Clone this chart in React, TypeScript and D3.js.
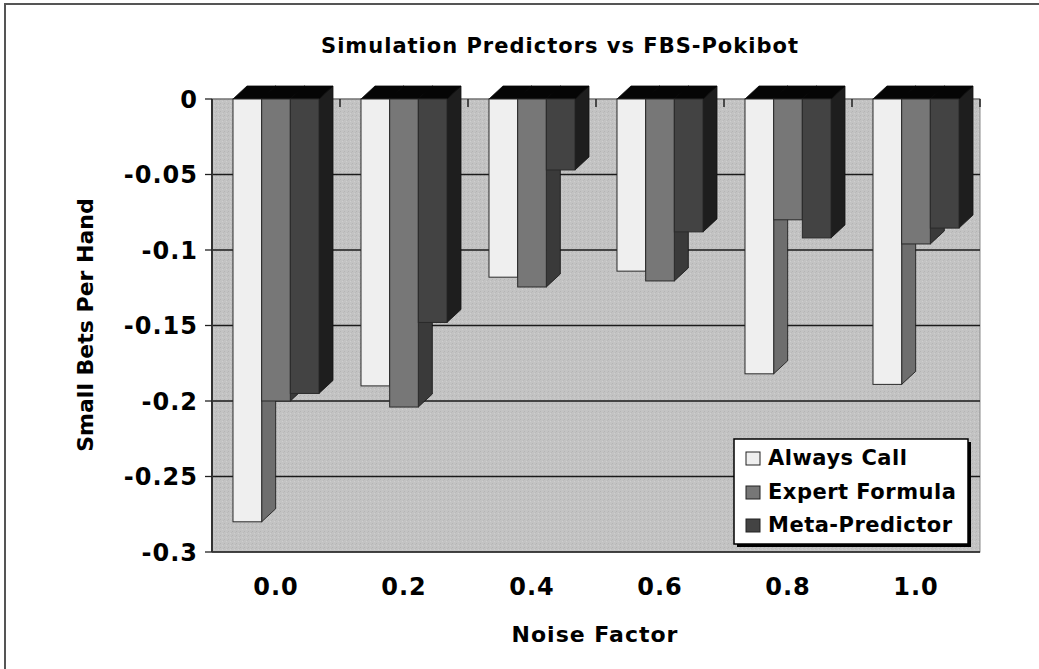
import { useEffect, useRef } from 'react';
import * as d3 from 'd3';

const noiseLevels = ['0.0', '0.2', '0.4', '0.6', '0.8', '1.0'];
const seriesNames = ['Always Call', 'Expert Formula', 'Meta-Predictor'];
const alwaysCall = [-0.28, -0.19, -0.118, -0.114, -0.182, -0.189];
const expertFormula = [-0.2, -0.204, -0.1245, -0.1205, -0.08, -0.096];
const metaPredictor = [-0.195, -0.148, -0.047, -0.088, -0.092, -0.0855];
const yTicks = [0, -0.05, -0.1, -0.15, -0.2, -0.25, -0.3];

const frontColors = ['#efefef', '#777777', '#434343'];
const sideColors = ['#6e6e6e', '#3a3a3a', '#1e1e1e'];
const FONT = '"DejaVu Sans", Verdana, sans-serif';

export default function App() {
  const svgRef = useRef<SVGSVGElement>(null);
  const width = 1039;
  const height = 669;

  useEffect(() => {
    if (!svgRef.current) return;
    const svg = d3.select(svgRef.current);
    svg.selectAll('*').remove();

    const margin = { top: 99, right: 59, bottom: 117, left: 212 };
    const chartWidth = width - margin.left - margin.right;
    const chartHeight = height - margin.top - margin.bottom;
    const seriesValues = [alwaysCall, expertFormula, metaPredictor];

    // Scales
    const x0 = d3.scaleBand().domain(noiseLevels).range([0, chartWidth]).padding(0);
    const gap = x0.bandwidth() * 0.164;
    const x1 = d3.scaleBand().domain(seriesNames).range([gap, x0.bandwidth() - gap]).padding(0);
    const y = d3.scaleLinear().domain([-0.3, 0]).range([chartHeight, 0]);

    // 3D depth offsets
    const dx = 14;
    const dy = 13;

    // Wall texture
    const defs = svg.append('defs');
    const pat = defs.append('pattern')
      .attr('id', 'wallTex')
      .attr('width', 4)
      .attr('height', 4)
      .attr('patternUnits', 'userSpaceOnUse');
    pat.append('rect').attr('width', 4).attr('height', 4).attr('fill', '#c3c3c3');
    pat.append('rect').attr('x', 0).attr('y', 0).attr('width', 1).attr('height', 1).attr('fill', '#b4b4b4');
    pat.append('rect').attr('x', 2).attr('y', 2).attr('width', 1).attr('height', 1).attr('fill', '#cfcfcf');
    pat.append('rect').attr('x', 3).attr('y', 1).attr('width', 1).attr('height', 1).attr('fill', '#bababa');

    // Frame (left and top edges only)
    svg.append('line').attr('x1', 5).attr('y1', 3).attr('x2', 5).attr('y2', height)
      .attr('stroke', '#555').attr('stroke-width', 2);
    svg.append('line').attr('x1', 4).attr('y1', 4).attr('x2', width).attr('y2', 4)
      .attr('stroke', '#555').attr('stroke-width', 2);

    const chart = svg.append('g')
      .attr('transform', `translate(${margin.left}, ${margin.top})`);

    // Back wall
    chart.append('rect')
      .attr('x', 0).attr('y', 0)
      .attr('width', chartWidth).attr('height', chartHeight)
      .attr('fill', 'url(#wallTex)')
      .attr('stroke', '#8a8a8a').attr('stroke-width', 1);

    // Gridlines
    chart.selectAll('.grid')
      .data(yTicks)
      .enter()
      .append('line')
      .attr('x1', 0).attr('x2', chartWidth)
      .attr('y1', d => y(d)).attr('y2', d => y(d))
      .attr('stroke', d => (d === 0 ? '#666' : '#1a1a1a'))
      .attr('stroke-width', d => (d === 0 ? 1 : 1.3));

    // Top category ticks
    chart.selectAll('.xtick')
      .data(noiseLevels)
      .enter()
      .append('line')
      .attr('x1', d => (x0(d) || 0) + x0.step())
      .attr('x2', d => (x0(d) || 0) + x0.step())
      .attr('y1', y(0)).attr('y2', y(0) + 8)
      .attr('stroke', '#222').attr('stroke-width', 1.5);

    // Y axis
    chart.append('line')
      .attr('x1', 0).attr('x2', 0).attr('y1', 0).attr('y2', chartHeight)
      .attr('stroke', '#333').attr('stroke-width', 2);
    chart.selectAll('.ytick')
      .data(yTicks)
      .enter()
      .append('line')
      .attr('x1', -7).attr('x2', 0)
      .attr('y1', d => y(d)).attr('y2', d => y(d))
      .attr('stroke', '#222').attr('stroke-width', 1.3);
    chart.selectAll('.ylabel')
      .data(yTicks)
      .enter()
      .append('text')
      .attr('x', -14)
      .attr('y', d => y(d))
      .attr('dy', '0.36em')
      .attr('text-anchor', 'end')
      .attr('font-size', '24px')
      .attr('font-weight', '700')
      .attr('letter-spacing', '1px')
      .style('font-family', FONT)
      .attr('fill', '#000')
      .text(d => (d === 0 ? '0' : String(d)));

    // Bars
    const y0 = y(0);
    noiseLevels.forEach((lvl, gi) => {
      const g = chart.append('g').attr('transform', `translate(${x0(lvl) || 0},0)`);
      seriesNames.forEach((s, si) => {
        const v = seriesValues[si][gi];
        const bx1 = x1(s) || 0;
        const bx2 = bx1 + x1.bandwidth();
        const yv = y(v);
        // side face
        g.append('polygon')
          .attr('points', [[bx2, y0], [bx2 + dx, y0 - dy], [bx2 + dx, yv - dy], [bx2, yv]].map(p => p.join(',')).join(' '))
          .attr('fill', sideColors[si])
          .attr('stroke', '#111').attr('stroke-width', 0.8);
        // top face
        g.append('polygon')
          .attr('points', [[bx1, y0], [bx2, y0], [bx2 + dx, y0 - dy], [bx1 + dx, y0 - dy]].map(p => p.join(',')).join(' '))
          .attr('fill', '#050505')
          .attr('stroke', '#050505').attr('stroke-width', 0.8);
        // front face
        g.append('rect')
          .attr('x', bx1).attr('y', y0)
          .attr('width', x1.bandwidth()).attr('height', yv - y0)
          .attr('fill', frontColors[si])
          .attr('stroke', '#2a2a2a').attr('stroke-width', 1);
      });
    });

    // X labels
    chart.selectAll('.xlabel')
      .data(noiseLevels)
      .enter()
      .append('text')
      .attr('x', d => (x0(d) || 0) + x0.bandwidth() / 2)
      .attr('y', 496)
      .attr('text-anchor', 'middle')
      .attr('font-size', '24px')
      .attr('font-weight', '700')
      .attr('letter-spacing', '1px')
      .style('font-family', FONT)
      .text(d => d);

    // Title
    svg.append('text')
      .attr('x', 560).attr('y', 53)
      .attr('text-anchor', 'middle')
      .attr('font-size', '21px')
      .attr('font-weight', '700')
      .attr('letter-spacing', '1px')
      .style('font-family', FONT)
      .text('Simulation Predictors vs FBS-Pokibot');

    // Axis titles
    svg.append('text')
      .attr('x', 595).attr('y', 642)
      .attr('text-anchor', 'middle')
      .attr('font-size', '22px')
      .attr('font-weight', '700')
      .attr('letter-spacing', '1px')
      .style('font-family', FONT)
      .text('Noise Factor');

    svg.append('text')
      .attr('transform', 'translate(93, 325) rotate(-90)')
      .attr('text-anchor', 'middle')
      .attr('font-size', '22px')
      .attr('font-weight', '700')
      .style('font-family', FONT)
      .text('Small Bets Per Hand');

    // Legend
    const legend = svg.append('g');
    legend.append('rect')
      .attr('x', 737).attr('y', 442).attr('width', 234).attr('height', 105)
      .attr('fill', '#000');
    legend.append('rect')
      .attr('x', 734).attr('y', 439).attr('width', 234).attr('height', 105)
      .attr('fill', '#fff').attr('stroke', '#000').attr('stroke-width', 1.5);
    const baselines = [465, 499, 532];
    seriesNames.forEach((s, i) => {
      legend.append('rect')
        .attr('x', 746).attr('y', baselines[i] - 13)
        .attr('width', 14).attr('height', 13)
        .attr('fill', frontColors[i])
        .attr('stroke', '#222').attr('stroke-width', 1);
      legend.append('text')
        .attr('x', 768).attr('y', baselines[i])
        .attr('font-size', '21px')
        .attr('font-weight', '700')
        .attr('letter-spacing', '0.5px')
        .style('font-family', FONT)
        .text(s);
    });
  }, []);

  return (
    <div style={{ position: 'absolute', left: 0, top: 0, background: '#fff' }}>
      <svg ref={svgRef} width={width} height={height} style={{ display: 'block' }} />
    </div>
  );
}
